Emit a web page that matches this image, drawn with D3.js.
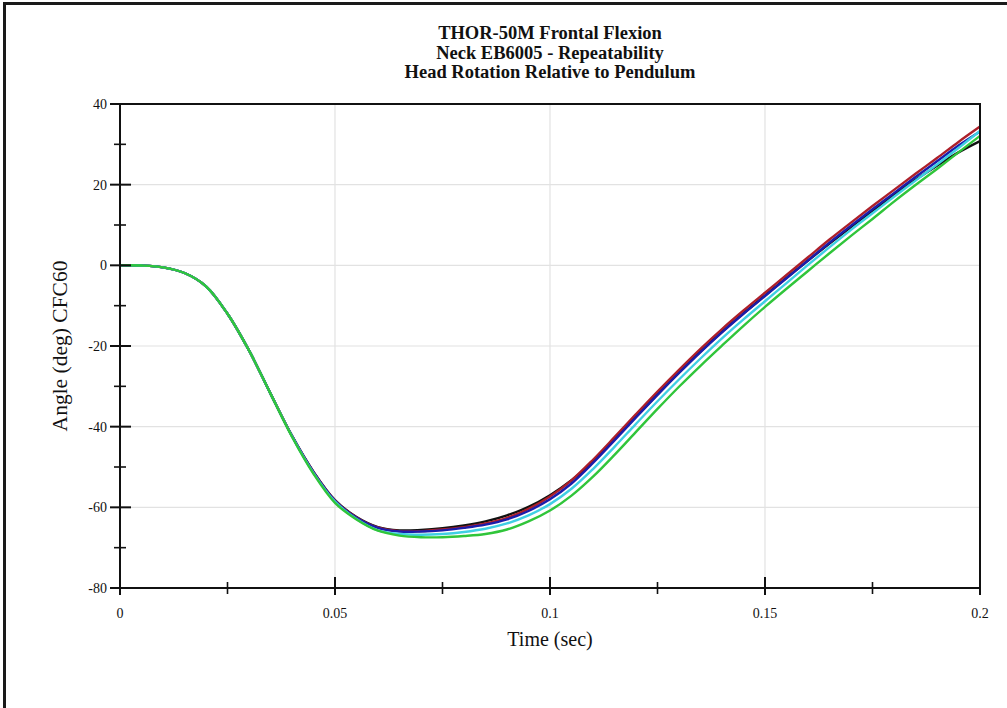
<!DOCTYPE html>
<html>
<head>
<meta charset="utf-8">
<script src="https://cdn.jsdelivr.net/npm/d3@7"></script>
<style>
  body { margin: 0; background: #fff; }
  text { font-family: "Liberation Serif", "DejaVu Serif", serif; fill: #111; }
</style>
</head>
<body>
<svg width="1007" height="708"></svg>
<script>
// sample times (sec)
var times = [0, .005, .01, .015, .02, .025, .03, .035, .04, .045, .05, .055, .06, .065, .07, .075, .08,
             .085, .09, .095, .1, .105, .11, .115, .12, .125, .13, .135, .14, .145, .15, .155, .16,
             .165, .17, .175, .18, .185, .19, .195, .2];

// head rotation (deg) for each repeat test
var blackRun = [0, -0.05, -0.5, -1.9, -5.2, -12.0, -21.1, -31.8, -42.3, -51.2, -58.2, -62.4, -64.9, -65.7, -65.6,
                -65.2, -64.5, -63.5, -62.0, -59.9, -57.0, -53.3, -48.6, -43.1, -37.5, -32.0, -26.6, -21.4, -16.5,
                -11.9, -7.5, -3.1, 1.2, 5.4, 9.5, 13.5, 17.5, 21.2, 24.7, 28.0, 30.8];
var redRun = [0, -0.05, -0.5, -1.9, -5.2, -12.0, -21.1, -31.8, -42.3, -51.2, -58.3, -62.5, -65.0, -65.9, -65.9,
              -65.5, -64.9, -64.0, -62.6, -60.4, -57.3, -53.3, -48.2, -42.6, -36.9, -31.3, -25.9, -20.7, -15.8,
              -11.2, -6.8, -2.4, 2.0, 6.4, 10.6, 14.7, 18.7, 22.7, 26.6, 30.6, 34.4];
var blueRun = [0, -0.05, -0.5, -1.9, -5.2, -12.0, -21.1, -31.8, -42.3, -51.3, -58.4, -62.6, -65.1, -66.0, -66.0,
               -65.7, -65.1, -64.3, -63.0, -60.9, -58.0, -54.1, -49.0, -43.4, -37.7, -32.1, -26.7, -21.5, -16.6,
               -12.0, -7.6, -3.2, 1.2, 5.6, 9.8, 13.9, 17.9, 21.9, 25.8, 29.7, 33.2];
var cyanRun = [0, -0.05, -0.5, -1.9, -5.2, -12.0, -21.1, -31.8, -42.4, -51.5, -58.6, -62.9, -65.7, -66.6, -66.8,
               -66.6, -66.1, -65.3, -64.0, -62.0, -59.2, -55.4, -50.5, -45.0, -39.3, -33.7, -28.3, -23.1, -18.1,
               -13.4, -8.9, -4.4, 0.1, 4.5, 8.8, 12.9, 17.0, 21.0, 25.0, 29.1, 33.3];
var greenRun = [0, -0.05, -0.5, -1.9, -5.2, -12.0, -21.1, -31.8, -42.5, -51.7, -58.9, -63.0, -65.8, -67.0, -67.4,
                -67.4, -67.1, -66.6, -65.5, -63.5, -60.8, -57.1, -52.4, -47.0, -41.3, -35.6, -30.1, -24.9, -19.9,
                -15.0, -10.3, -5.8, -1.4, 3.0, 7.3, 11.5, 15.8, 19.9, 23.9, 28.0, 32.1];

var seriesNames = ["black", "red", "blue", "cyan", "green"];
var seriesValues = [blackRun, redRun, blueRun, cyanRun, greenRun];
var seriesColors = ["#111111", "#ad1f2a", "#1c1caa", "#3fcfe3", "#30c53a"];

var xMajor = [0, 0.05, 0.1, 0.15, 0.2];
var xMinor = [0.025, 0.075, 0.125, 0.175];
var yMajor = [-80, -60, -40, -20, 0, 20, 40];
var yMinor = [-70, -50, -30, -10, 10, 30];

var titleLines = ["THOR-50M Frontal Flexion", "Neck EB6005 - Repeatability", "Head Rotation Relative to Pendulum"];

var svg = d3.select("svg"),
    margin = {left: 120, right: 27, top: 104, bottom: 120},
    width = +svg.attr("width") - margin.left - margin.right,
    height = +svg.attr("height") - margin.top - margin.bottom;

// outer frame
svg.append("rect")
    .attr("x", 4.5).attr("y", 3.5)
    .attr("width", 1010).attr("height", 720)
    .attr("fill", "none")
    .attr("stroke", "#1a1a1a")
    .attr("stroke-width", 3);

var g = svg.append("g")
    .attr("transform", `translate(${margin.left},${margin.top})`);

var xScale = d3.scaleLinear().domain([0, 0.2]).range([0, width]),
    yScale = d3.scaleLinear().domain([-80, 40]).range([height, 0]);

// grid
g.selectAll(".xgrid")
    .data(xMajor.slice(1, -1))
    .enter().append("line")
    .attr("x1", d => xScale(d)).attr("x2", d => xScale(d))
    .attr("y1", 0).attr("y2", height)
    .attr("stroke", "#e2e2e2").attr("stroke-width", 1.2);
g.selectAll(".ygrid")
    .data(yMajor.slice(1, -1))
    .enter().append("line")
    .attr("x1", 0).attr("x2", width)
    .attr("y1", d => yScale(d)).attr("y2", d => yScale(d))
    .attr("stroke", "#e2e2e2").attr("stroke-width", 1.2);

// curves
var line = d3.line()
    .x((d, i) => xScale(times[i]))
    .y(d => yScale(d))
    .curve(d3.curveCatmullRom.alpha(0.5));

g.selectAll(".run")
    .data(seriesValues)
    .enter().append("path")
    .attr("class", "run")
    .attr("fill", "none")
    .attr("stroke", (d, i) => seriesColors[i])
    .attr("stroke-width", 2.4)
    .attr("d", line);

// frame top and right
g.append("path")
    .attr("d", `M0,0H${width}V${height}`)
    .attr("fill", "none").attr("stroke", "#111").attr("stroke-width", 2);

// axes
var xAxis = g.append("g").attr("transform", `translate(0,${height})`);
xAxis.append("line").attr("x1", 0).attr("x2", width).attr("stroke", "#111").attr("stroke-width", 2);
xAxis.selectAll(".maj").data(xMajor).enter().append("line")
    .attr("x1", d => xScale(d)).attr("x2", d => xScale(d))
    .attr("y1", -11).attr("y2", 7)
    .attr("stroke", "#111").attr("stroke-width", 2);
xAxis.selectAll(".min").data(xMinor).enter().append("line")
    .attr("x1", d => xScale(d)).attr("x2", d => xScale(d))
    .attr("y1", -6).attr("y2", 6)
    .attr("stroke", "#111").attr("stroke-width", 1.6);
xAxis.selectAll(".lbl").data(xMajor).enter().append("text")
    .attr("x", d => xScale(d)).attr("y", 29.5)
    .attr("text-anchor", "middle")
    .style("font-size", "14px")
    .text(d => d3.format("")(d));
xAxis.append("text")
    .attr("x", width / 2).attr("y", 58)
    .attr("text-anchor", "middle")
    .style("font-size", "20px")
    .text("Time (sec)");

var yAxis = g.append("g");
yAxis.append("line").attr("y1", 0).attr("y2", height).attr("stroke", "#111").attr("stroke-width", 2);
yAxis.selectAll(".maj").data(yMajor).enter().append("line")
    .attr("y1", d => yScale(d)).attr("y2", d => yScale(d))
    .attr("x1", -10).attr("x2", 11)
    .attr("stroke", "#111").attr("stroke-width", 2);
yAxis.selectAll(".min").data(yMinor).enter().append("line")
    .attr("y1", d => yScale(d)).attr("y2", d => yScale(d))
    .attr("x1", -6).attr("x2", 6)
    .attr("stroke", "#111").attr("stroke-width", 1.6);
yAxis.selectAll(".lbl").data(yMajor).enter().append("text")
    .attr("x", -13).attr("y", d => yScale(d))
    .attr("dy", "0.35em")
    .attr("text-anchor", "end")
    .style("font-size", "14px")
    .text(d => d);
yAxis.append("text")
    .attr("transform", `translate(-53,${height / 2}) rotate(-90)`)
    .attr("text-anchor", "middle")
    .style("font-size", "21.5px")
    .text("Angle (deg) CFC60");

// title
svg.selectAll(".title")
    .data(titleLines)
    .enter().append("text")
    .attr("x", margin.left + width / 2)
    .attr("y", (d, i) => 39 + i * 19.5)
    .attr("text-anchor", "middle")
    .style("font-size", "18.5px")
    .style("font-weight", "bold")
    .text(d => d);
</script>
</body>
</html>
